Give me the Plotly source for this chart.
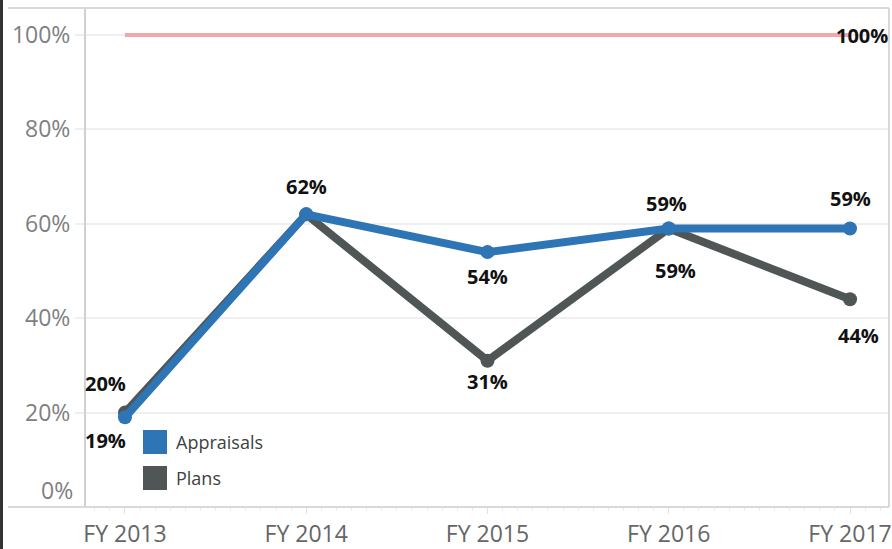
import plotly.graph_objects as go

# ---------------- data ----------------
categories = ["FY 2013", "FY 2014", "FY 2015", "FY 2016", "FY 2017"]
appraisals = [0.19, 0.62, 0.54, 0.59, 0.59]
plans = [0.20, 0.62, 0.31, 0.59, 0.44]
target = [1.0, 1.0, 1.0, 1.0, 1.0]
y_ticks = [0.2, 0.4, 0.6, 0.8, 1.0]
y_tick_labels = ["20%", "40%", "60%", "80%", "100%"]

# ---------------- layout geometry ----------------
W, H = 892, 549
L, R, T, B = 86, 3, 8, 42
PW, PH = W - L - R, H - T - B

def px_x(p):
    return (p - L) / PW

def px_y(p):
    return (H - B - p) / PH

BLUE = "#2e75b6"
GRAY = "#505556"
PINK = "#f2a7ae"

xs = list(range(len(categories)))

fig = go.Figure()
fig.add_trace(go.Scatter(x=xs, y=target, mode="lines",
                         line=dict(color=PINK, width=4), showlegend=False, hoverinfo="skip"))
fig.add_trace(go.Scatter(x=xs, y=plans, mode="lines+markers", name="Plans",
                         line=dict(color=GRAY, width=8), marker=dict(size=14, color=GRAY),
                         showlegend=False))
fig.add_trace(go.Scatter(x=xs, y=appraisals, mode="lines+markers", name="Appraisals",
                         line=dict(color=BLUE, width=8), marker=dict(size=14, color=BLUE),
                         showlegend=False))

label_font = dict(family="Open Sans", size=20, color="#111111")
app_offsets = [(-19, -23), (0, 28), (0, -24), (-2, 25), (0, 30)]
plan_offsets = [(-19, 29), None, (0, -21), (7, -42), (8, -36)]

annotations = []
for i, (v, off) in enumerate(zip(appraisals, app_offsets)):
    if off is None:
        continue
    annotations.append(dict(x=xs[i], y=v, text="<b>%d%%</b>" % round(v * 100), showarrow=False,
                            xshift=off[0], yshift=off[1], font=label_font))
for i, (v, off) in enumerate(zip(plans, plan_offsets)):
    if off is None:
        continue
    annotations.append(dict(x=xs[i], y=v, text="<b>%d%%</b>" % round(v * 100), showarrow=False,
                            xshift=off[0], yshift=off[1], font=label_font))
annotations.append(dict(x=xs[-1], y=target[-1], text="<b>%d%%</b>" % round(target[-1] * 100),
                        showarrow=False, xshift=12, yshift=0, font=label_font))
# 0% tick label (raised above the axis line, as in the reference)
annotations.append(dict(xref="paper", yref="paper", x=px_x(75), y=px_y(490), text="0%",
                        showarrow=False, xanchor="right", yanchor="middle",
                        font=dict(family="Open Sans", size=23, color="#808080")))
# legend texts
annotations.append(dict(xref="paper", yref="paper", x=px_x(174), y=px_y(442), text="Appraisals",
                        showarrow=False, xanchor="left", yanchor="middle",
                        font=dict(family="Open Sans", size=18, color="#404040")))
annotations.append(dict(xref="paper", yref="paper", x=px_x(174), y=px_y(478), text="Plans",
                        showarrow=False, xanchor="left", yanchor="middle",
                        font=dict(family="Open Sans", size=18, color="#404040")))

frame = "#d9d9d9"
shapes = [
    # legend swatches
    dict(type="rect", xref="paper", yref="paper", x0=px_x(143), x1=px_x(167), y0=px_y(454), y1=px_y(430),
         fillcolor=BLUE, line=dict(width=0)),
    dict(type="rect", xref="paper", yref="paper", x0=px_x(143), x1=px_x(167), y0=px_y(490), y1=px_y(466),
         fillcolor=GRAY, line=dict(width=0)),
    # outer frame lines
    dict(type="line", xref="paper", yref="paper", x0=px_x(8), x1=1, y0=1, y1=1, line=dict(color=frame, width=2)),
    dict(type="line", xref="paper", yref="paper", x0=1, x1=1, y0=0, y1=1, line=dict(color=frame, width=2)),
    dict(type="line", xref="paper", yref="paper", x0=px_x(8), x1=1, y0=0, y1=0, line=dict(color=frame, width=2)),
    # dark left edge
    dict(type="line", xref="paper", yref="paper", x0=px_x(1.5), x1=px_x(1.5), y0=px_y(549), y1=px_y(0),
         line=dict(color="#333333", width=3)),
]

fig.update_layout(
    width=W, height=H,
    margin=dict(l=L, r=R, t=T, b=B, autoexpand=False),
    paper_bgcolor="white", plot_bgcolor="white",
    font=dict(family="Open Sans"),
    showlegend=False,
    annotations=annotations,
    shapes=shapes,
    xaxis=dict(range=[-0.215, 4.215], tickvals=xs, ticktext=categories,
               tickfont=dict(family="Open Sans", size=23, color="#666666"),
               showgrid=False, zeroline=False, showline=False, automargin=False,
               ticks="outside", ticklen=6, tickcolor="#e3e3e3", tickwidth=1,
               ticklabelstandoff=0, ticklabeloverflow="allow",
               minor=dict(dtick=1/12, tick0=0, ticks="outside", ticklen=3, tickcolor="#ececec", showgrid=False)),
    yaxis=dict(range=[0, (H - B - T) / (H - B - 35)], tickvals=y_ticks, ticktext=y_tick_labels,
               tickfont=dict(family="Open Sans", size=23, color="#808080"),
               showgrid=True, gridcolor="#efefef", gridwidth=2, automargin=False,
               zeroline=False, showline=True, linecolor="#d0d0d0", linewidth=2,
               ticks="outside", ticklen=9, tickcolor="#efefef", tickwidth=2),
)

fig.write_html("out.html", config={"displayModeBar": False},
               post_script="document.body.style.margin='0';document.body.style.overflow='hidden';")
